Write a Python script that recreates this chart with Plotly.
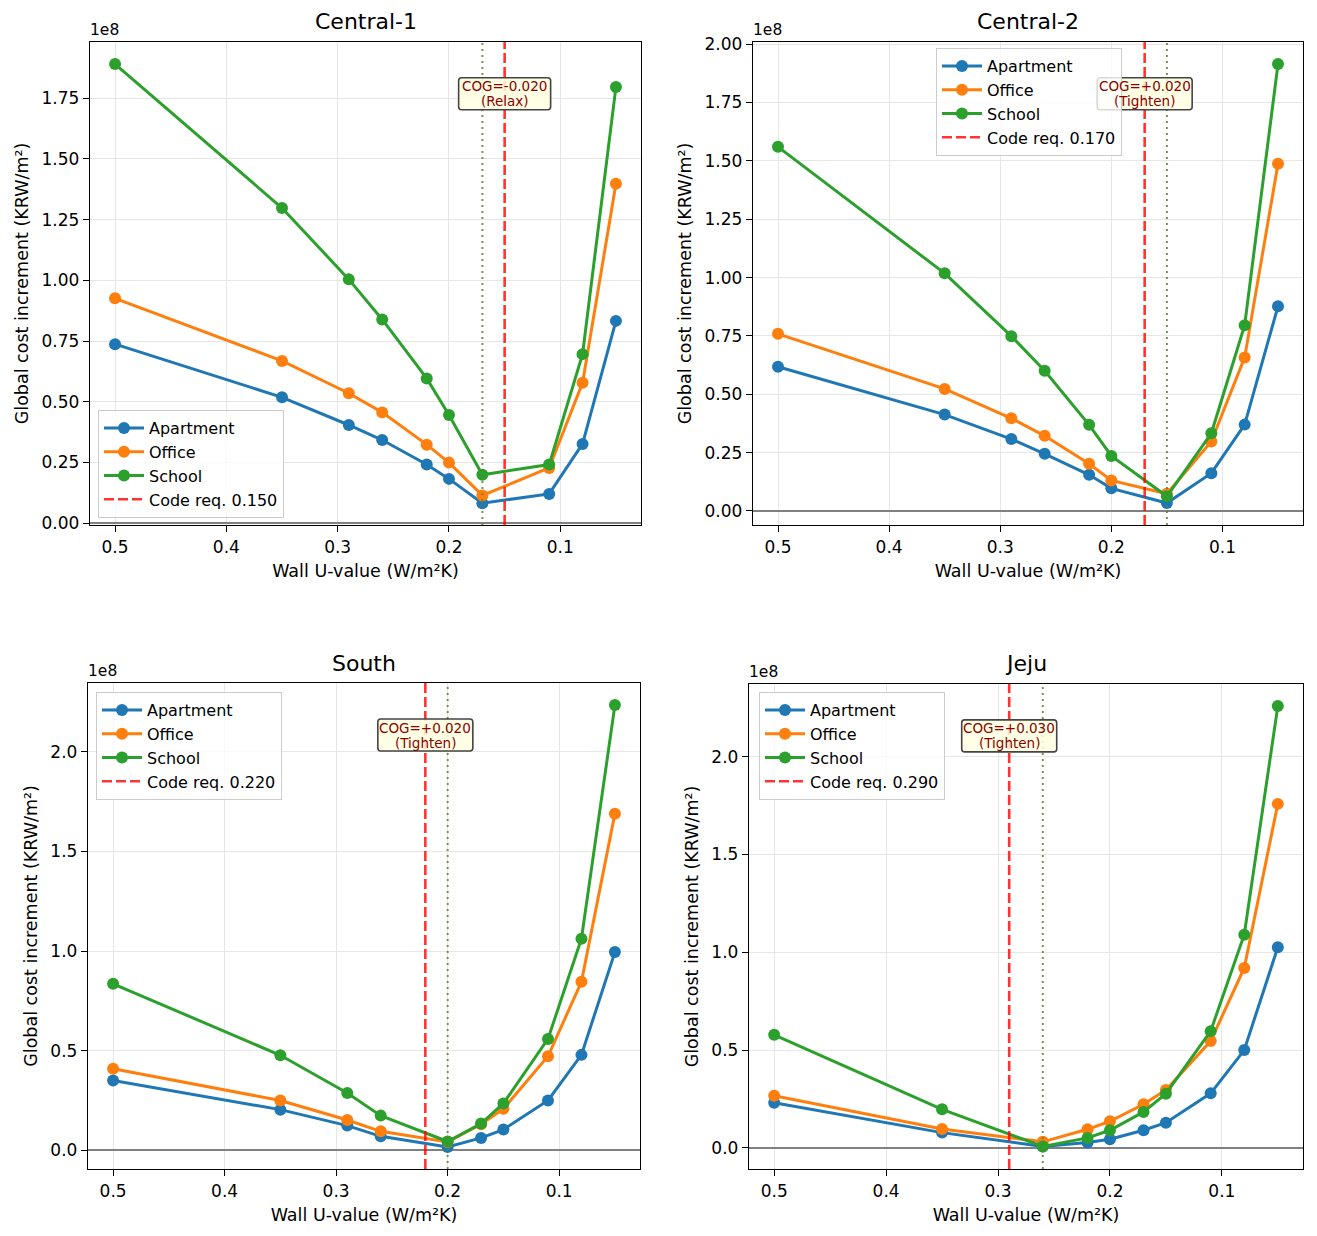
import plotly.graph_objects as go

W, H = 1317, 1236

# ---------------- data (global cost increment, units of 1e8 KRW/m²) ----------------
regions = ["Central-1", "Central-2", "South", "Jeju"]
building_types = ["Apartment", "Office", "School"]

u_central1 = [0.5, 0.35, 0.29, 0.26, 0.22, 0.2, 0.17, 0.11, 0.08, 0.05]
apt_central1 = [0.737, 0.518, 0.404, 0.342, 0.241, 0.182, 0.082, 0.120, 0.326, 0.833]
off_central1 = [0.926, 0.668, 0.535, 0.456, 0.323, 0.249, 0.114, 0.227, 0.578, 1.398]
sch_central1 = [1.891, 1.298, 1.004, 0.839, 0.596, 0.445, 0.199, 0.241, 0.696, 1.797]

u_central2 = [0.5, 0.35, 0.29, 0.26, 0.22, 0.2, 0.15, 0.11, 0.08, 0.05]
apt_central2 = [0.618, 0.413, 0.308, 0.245, 0.155, 0.097, 0.034, 0.162, 0.370, 0.877]
off_central2 = [0.759, 0.523, 0.397, 0.322, 0.202, 0.131, 0.074, 0.298, 0.658, 1.487]
sch_central2 = [1.560, 1.018, 0.749, 0.601, 0.369, 0.236, 0.063, 0.333, 0.796, 1.915]

u_south = [0.5, 0.35, 0.29, 0.26, 0.2, 0.17, 0.15, 0.11, 0.08, 0.05]
apt_south = [0.350, 0.204, 0.124, 0.070, 0.017, 0.062, 0.104, 0.250, 0.479, 0.995]
off_south = [0.409, 0.250, 0.152, 0.095, 0.042, 0.131, 0.208, 0.472, 0.846, 1.690]
sch_south = [0.836, 0.477, 0.288, 0.174, 0.044, 0.134, 0.235, 0.559, 1.062, 2.235]

u_jeju = [0.5, 0.35, 0.26, 0.22, 0.2, 0.17, 0.15, 0.11, 0.08, 0.05]
apt_jeju = [0.231, 0.078, 0.007, 0.027, 0.044, 0.090, 0.129, 0.279, 0.500, 1.026]
off_jeju = [0.267, 0.097, 0.031, 0.095, 0.136, 0.223, 0.296, 0.546, 0.920, 1.759]
sch_jeju = [0.578, 0.197, 0.007, 0.051, 0.090, 0.184, 0.277, 0.597, 1.090, 2.259]

code_req = [0.150, 0.170, 0.220, 0.290]
cost_optimal = [0.17, 0.15, 0.20, 0.26]
cog_values = ["COG=-0.020", "COG=+0.020", "COG=+0.020", "COG=+0.030"]
cog_actions = ["(Relax)", "(Tighten)", "(Tighten)", "(Tighten)"]

u_values = [u_central1, u_central2, u_south, u_jeju]
series = [
    [apt_central1, off_central1, sch_central1],
    [apt_central2, off_central2, sch_central2],
    [apt_south, off_south, sch_south],
    [apt_jeju, off_jeju, sch_jeju],
]

# ---------------- styling ----------------
colors = ["#1f77b4", "#ff7f0e", "#2ca02c"]
FONT = "DejaVu Sans"
TICK_SIZE = 17
LABEL_SIZE = 17.5
LEGEND_SIZE = 16
TITLE_SIZE = 22
NOTE_SIZE = 13.5
BOX_Y = 0.893

# panel pixel boxes: left, right, top, bottom
boxes = [(90, 641, 42, 525), (753, 1303, 42, 525),
         (88, 640, 683, 1169), (749, 1303, 684, 1169)]
y_ranges = [[-0.008, 1.982], [-0.060, 2.009], [-0.094, 2.346], [-0.108, 2.372]]
y_dticks = [0.25, 0.25, 0.5, 0.5]
y_formats = [".2f", ".2f", ".1f", ".1f"]
# legend placement (px): x, y, xanchor, yanchor
legend_pos = [(98, 518, "left", "bottom"), (1029, 48, "center", "top"),
              (96, 692, "left", "top"), (759, 692, "left", "top")]
box_half_w = [46, 47.5, 47.5, 47.5]


def rounded_rect(hw, hh, rad):
    return (f"M {-hw + rad},{-hh} L {hw - rad},{-hh} Q {hw},{-hh} {hw},{-hh + rad} "
            f"L {hw},{hh - rad} Q {hw},{hh} {hw - rad},{hh} L {-hw + rad},{hh} "
            f"Q {-hw},{hh} {-hw},{hh - rad} L {-hw},{-hh + rad} Q {-hw},{-hh} {-hw + rad},{-hh} Z")


fig = go.Figure()
annotations = []
shapes = []
layout = {}

for i in range(4):
    n = i + 1
    xa = "x" if n == 1 else f"x{n}"
    ya = "y" if n == 1 else f"y{n}"
    lg = "legend" if n == 1 else f"legend{n}"
    l, r, t, b = boxes[i]

    for k, name in enumerate(building_types):
        fig.add_trace(go.Scatter(
            x=u_values[i], y=series[i][k], name=name, mode="lines+markers",
            line=dict(color=colors[k], width=3),
            marker=dict(color=colors[k], size=12),
            xaxis=xa, yaxis=ya, legend=lg, legendgroup=f"{regions[i]}-{name}",
            legendrank=k + 1,
        ))

    # code requirement (red dashed) and cost-optimal (green dotted) lines
    shapes.append(dict(
        type="line", xref=xa, yref=f"{ya} domain", x0=code_req[i], x1=code_req[i],
        y0=0, y1=1, line=dict(color="rgba(255,0,0,0.8)", width=2.6, dash="10px,4px"),
        layer="above", showlegend=True, name=f"Code req. {code_req[i]:.3f}",
        legend=lg, legendgroup=f"{regions[i]}-code", legendrank=4,
    ))
    shapes.append(dict(
        type="line", xref=xa, yref=f"{ya} domain", x0=cost_optimal[i], x1=cost_optimal[i],
        y0=0, y1=1, line=dict(color="rgba(90,130,40,0.85)", width=2, dash="2px,4px"),
        layer="above",
    ))
    # COG label box (rounded, semi-transparent)
    shapes.append(dict(
        type="path", xref=xa, yref=f"{ya} domain",
        xsizemode="pixel", ysizemode="pixel", xanchor=code_req[i], yanchor=BOX_Y,
        path=rounded_rect(box_half_w[i], 16, 3),
        fillcolor="rgba(255,255,224,0.85)", line=dict(color="#444444", width=1.6),
        layer="above",
    ))
    annotations.append(dict(
        xref=xa, yref=f"{ya} domain", x=code_req[i], y=BOX_Y, yshift=7.5, text=cog_values[i],
        showarrow=False, font=dict(family=FONT, size=NOTE_SIZE, color="#8B0000"),
        xanchor="center", yanchor="middle",
    ))
    annotations.append(dict(
        xref=xa, yref=f"{ya} domain", x=code_req[i], y=BOX_Y, yshift=-7.5, text=cog_actions[i],
        showarrow=False, font=dict(family=FONT, size=NOTE_SIZE, color="#8B0000"),
        xanchor="center", yanchor="middle",
    ))
    # subplot title
    annotations.append(dict(
        xref="paper", yref="paper", x=((l + r) / 2) / W, y=1 - (t - 20) / H,
        text=regions[i], showarrow=False, font=dict(family=FONT, size=TITLE_SIZE, color="black"),
        xanchor="center", yanchor="middle",
    ))
    # offset text
    annotations.append(dict(
        xref="paper", yref="paper", x=(l - 2) / W, y=1 - (t - 1) / H,
        text="1e8", showarrow=False, font=dict(family=FONT, size=15.5, color="black"),
        xanchor="left", yanchor="bottom",
    ))

    axis_common = dict(
        showline=True, mirror=True, linecolor="black", linewidth=1.4,
        ticks="outside", ticklen=6, tickwidth=1.3, tickcolor="black",
        showgrid=True, gridcolor="#e6e6e6", gridwidth=1.2, automargin=False,
        tickfont=dict(family=FONT, size=TICK_SIZE, color="black"),
    )
    layout["xaxis" if n == 1 else f"xaxis{n}"] = dict(
        axis_common, domain=[l / W, r / W], anchor=ya,
        range=[0.5225, 0.0275], dtick=0.1, tick0=0, tickformat=".1f",
        zeroline=False,
        title=dict(text="Wall U-value (W/m²K)", font=dict(family=FONT, size=LABEL_SIZE, color="black"), standoff=9),
    )
    layout["yaxis" if n == 1 else f"yaxis{n}"] = dict(
        axis_common, domain=[1 - b / H, 1 - t / H], anchor=xa,
        range=y_ranges[i], dtick=y_dticks[i], tick0=0, tickformat=y_formats[i],
        zeroline=True, zerolinecolor="#808080", zerolinewidth=1.6,
        title=dict(text="Global cost increment (KRW/m²)", font=dict(family=FONT, size=LABEL_SIZE, color="black"), standoff=8),
    )
    lx, ly, xan, yan = legend_pos[i]
    layout[lg] = dict(
        x=lx / W, y=1 - ly / H, xanchor=xan, yanchor=yan,
        bgcolor="rgba(255,255,255,0.8)", bordercolor="#cccccc", borderwidth=1,
        font=dict(family=FONT, size=LEGEND_SIZE, color="black"),
        itemwidth=40, tracegroupgap=1, traceorder="normal",
    )

fig.update_layout(
    width=W, height=H, margin=dict(l=0, r=0, t=0, b=0, autoexpand=False),
    paper_bgcolor="white", plot_bgcolor="white",
    font=dict(family=FONT, size=TICK_SIZE, color="black"),
    annotations=annotations, shapes=shapes, showlegend=True,
    **layout,
)

fig.write_html("out.html")
